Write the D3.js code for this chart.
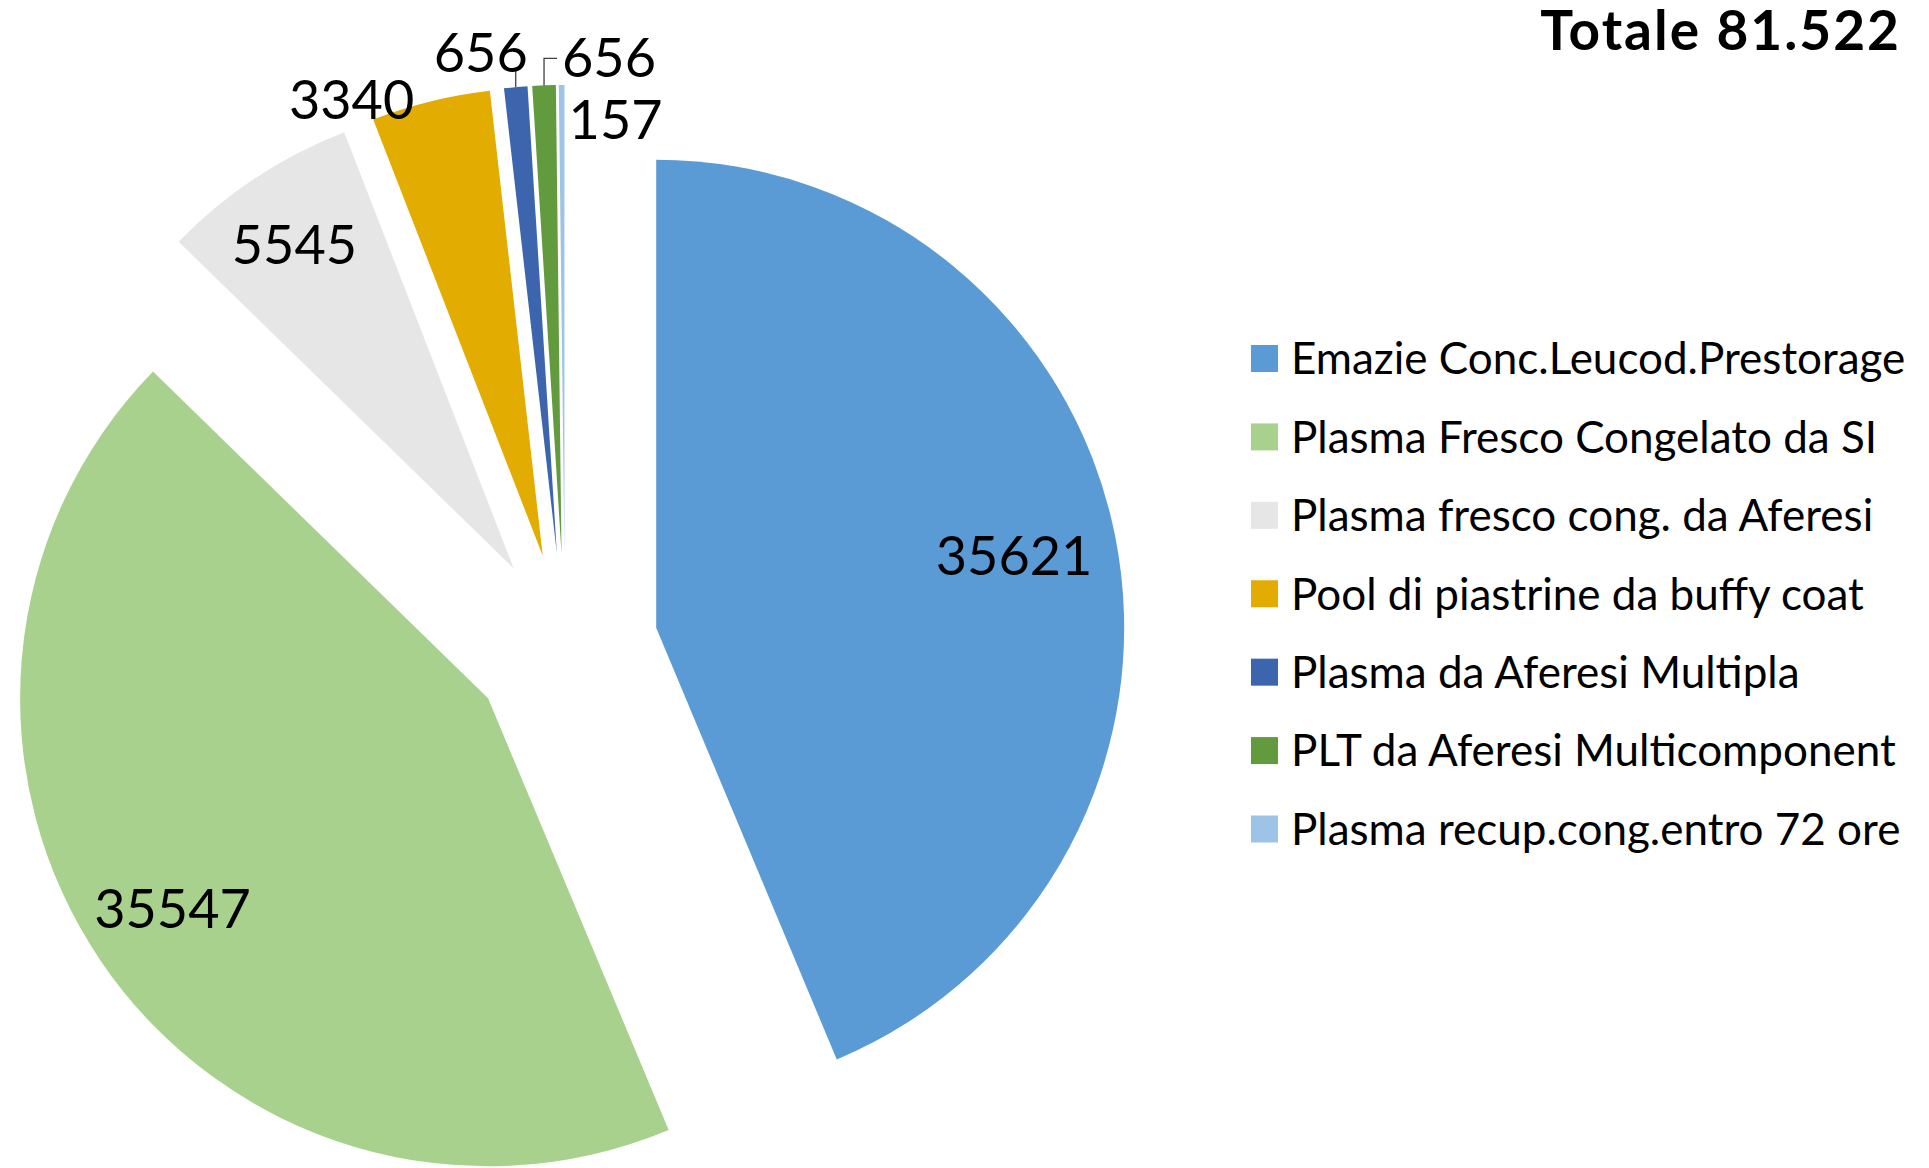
<!DOCTYPE html>
<html>
<head>
<meta charset="utf-8">
<script src="https://cdn.jsdelivr.net/npm/d3@7"></script>
<style>
  body { margin: 0; background: #fff; }
  svg { display: block; font-family: Lato, "Open Sans", sans-serif; }
</style>
</head>
<body>
<figure id="pie" style="margin:0"></figure>
<script>
// data
const categories = [
  "Emazie Conc.Leucod.Prestorage",
  "Plasma Fresco Congelato da SI",
  "Plasma fresco cong. da Aferesi",
  "Pool di piastrine da buffy coat",
  "Plasma da Aferesi Multipla",
  "PLT da Aferesi Multicomponent",
  "Plasma recup.cong.entro 72 ore"
];
const values = [35621, 35547, 5545, 3340, 656, 656, 157];
const colors = ["#5b9bd5", "#a9d18e", "#e7e6e6", "#e2ac00", "#3c65ae", "#629b3e", "#9dc3e6"];
const title = "Totale 81.522";

const width = 1929, height = 1168;
const cx = 565, cy = 646;
const radius = 468;
const explode = 93;

// how each data label sits (inside along the mid angle, or offset from the arc middle)
const labelLayout = [
  { inside: 0.78 },
  { inside: 0.8, shift: -6 },
  { inside: 0.83, shift: -5 },
  { dx: -79, dy: -2, anchor: "middle" },
  { dx: 12, dy: -35, anchor: "end", leader: [[0, 0], [0, -19]] },
  { dx: 18, dy: -28, anchor: "start", leader: [[0, 0], [0, -27], [13, -27]] },
  { dx: 7, dy: 35, anchor: "start" }
];

const svg = d3.select("figure#pie")
  .append("svg")
  .attr("width", width)
  .attr("height", height);

const pie = d3.pie().sort(null).value(d => d);
const arcs = pie(values);
const arc = d3.arc().innerRadius(0).outerRadius(radius);

const mid = d => (d.startAngle + d.endAngle) / 2;

const g = svg.append("g").attr("transform", "translate(" + cx + "," + cy + ")");

// slices, each pushed out along its own mid angle
const slice = g.selectAll("g.slice")
  .data(arcs)
  .enter()
  .append("g")
  .attr("class", "slice")
  .attr("transform", d => "translate(" + explode * Math.sin(mid(d)) + "," + (-explode * Math.cos(mid(d))) + ")");

slice.append("path")
  .attr("d", arc)
  .attr("fill", (d, i) => colors[i]);

// data labels
slice.each(function (d, i) {
  const s = d3.select(this);
  const L = labelLayout[i];
  const a = mid(d);
  if (L.inside) {
    s.append("text")
      .attr("x", radius * L.inside * Math.sin(a) + (L.shift || 0))
      .attr("y", -radius * L.inside * Math.cos(a))
      .attr("dy", "0.36em")
      .attr("text-anchor", "middle")
      .attr("font-size", 54)
      .attr("fill", "#000")
      .text(values[i]);
  } else {
    const ox = radius * Math.sin(a), oy = -radius * Math.cos(a);
    if (L.leader) {
      s.append("path")
        .attr("d", d3.line()(L.leader.map(p => [ox + p[0], oy + p[1]])))
        .attr("fill", "none")
        .attr("stroke", "#404040")
        .attr("stroke-width", 1.3);
    }
    s.append("text")
      .attr("x", ox + L.dx)
      .attr("y", oy + L.dy)
      .attr("dy", "0.36em")
      .attr("text-anchor", L.anchor)
      .attr("font-size", 54)
      .attr("fill", "#000")
      .text(values[i]);
  }
});

// title
svg.append("text")
  .attr("x", 1901)
  .attr("y", 50)
  .attr("text-anchor", "end")
  .attr("font-size", 55)
  .attr("font-weight", "bold")
  .attr("letter-spacing", 2)
  .attr("fill", "#000")
  .text(title);

// legend
const y = d3.scalePoint().domain(categories).range([358.5, 829]);
const legend = svg.selectAll("g.legend")
  .data(categories)
  .enter()
  .append("g")
  .attr("class", "legend")
  .attr("transform", d => "translate(1251," + y(d) + ")");

legend.append("rect")
  .attr("x", 0)
  .attr("y", -13.5)
  .attr("width", 27)
  .attr("height", 27)
  .attr("fill", (d, i) => colors[i]);

legend.append("text")
  .attr("x", 40)
  .attr("dy", "0.36em")
  .attr("font-size", 44)
  .attr("fill", "#000")
  .text(d => d);
</script>
</body>
</html>
